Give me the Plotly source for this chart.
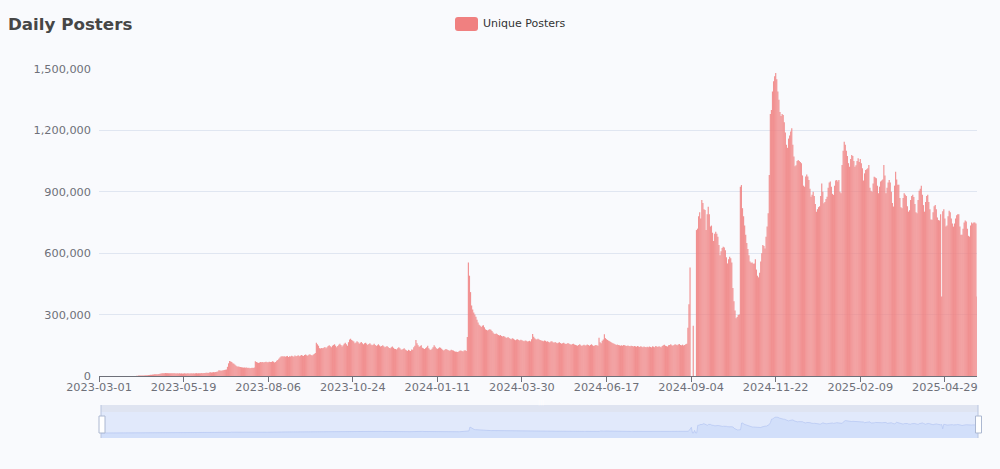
import pandas as pd
import plotly.graph_objects as go

W, H = 1000, 469

# daily unique posters, in thousands, one row of numbers per stretch between x ticks
seg_0 = [0]*35 + [1,1,2,2,2,3,3,3,4,4, 4,5,5,6,6,7,7,8,8,9, 9,10,11,12,13,14,14,15,14,14,
         14,13,14,13,13,14,13,12,13,12,13,12,13,12]
seg_1 = [12,13,12,12,13,12,12,13,12,13, 12,13,14,13,13,14,14,15,14,15, 15,16,16,15,17,18,17,18,19,18,
         20,21,22,28,27,26,27,28,29, 30,32, 45,62,73, 71,68,62,60,55,
         50,47,46,45,44,43,42,41,42,40,41, 39,40,38,39,40,39,41,72,
         68,66,64,66,68,67,69,66,68,70,67]
seg_2 = [67,70,69,68,72,70,66,68,74, 78,84,90,95,
         96,95,97,94,96,98,93,97,95,99,96,94,100,97,98,101,96,99,103,100,98,102,105,101,99,104,106,102,100,104,108,
         112,162, 155,148,136,134,137,135,
         138,142,136,140,146,150,145,141,148,152,155,148,140,146,153,158,152,144,150,157,162,155,148,165,178,182,176]
seg_3 = [172,168,160,164,170,165,158,162,166,160, 155,160,163,157,152,156,160,154,150,153,
         157,152,147,150,155,149,144,146,150,145, 140,143,147,142,137,135,140,144,138,133,
         132,130,136,141,135,130,128,132,136,130, 126,122,128,125,122,130,128,140,148,
         176,160,150,142,146,150,138,135,132,136, 140,148,135,130,127,133,140,150,143,135]
seg_4 = [132,136,140,138,133,128,125,128,132,130, 127,123,125,128,126,124,121,119,118,117,
         120,123,125,122,120,124,126,122,190,
         555,490,410,345,325,310,300,290,275,262, 250,245,240,245,248,238,228,225,222,226,
         228,226,220,212,206,205,208,204,200,198, 200,196,193,195,192,188,186,190,186,182,
         180,184,182,178,175,178,180,176,174,177]
seg_5 = [175,172,170,174,172,168,170,172,169,180, 205,192,185,180,178,182,178,176,174,172,
         170,174,172,168,170,166,164,168,170,165, 163,166,162,160,163,165,161,158,160,163,
         159,156,158,161,157,155,153,156,158,154, 152,150,148,152,155,150,147,150,153,149,
         150,154,151,148,152,155,150,147,149,152, 150,148,187,165,160,172,178,204,185]
seg_6 = [180,176,172,170,166,163,160,158,155,152, 154,152,150,148,150,148,152,150,148,147,
         149,146,145,148,146,144,147,145,143,146, 144,142,145,143,141,144,142,140,143,141,
         144,142,140,145,143,141,146,144,142,145, 143,140,146,150,153,148,146,144,150,152,
         155,150,148,152,155,153,150,154,156,152, 150,153,149,152,155,158,236,350,530]
seg_7 = [0,0,245,0,0, 713,720,780,800,770,860,845,815,811,713,790,827,790,730,735,700,660,695,705,695,680,640,
         590,610,625,632,628,615,580,550,570,583,575,555,430,365,320,282,288,298,300,925,933,820,780,735,690,650,
         620,590,560,553,555,548,550,570,520,490,482,505,560,600,640,635,623,680,730,795,982,1280,1300,1390,1440,1465]
seg_8 = [1480,1450,1390,1350,1290,1270,1280,1275,1240,1190,1130,1115,1160,1175,1195,1210,1130,1072,1025,1030,
         1050,1055,1050,1045,1040,980,930,925,975,985,975,958,915,876,885,900,880,840,803,815,825,830,880,941,900,
         844,850,865,876,920,945,950,925,890,885,930,955,958,950,958,900,893,1031,1100,1145,1130,1100,1075,1040,
         1023,1060,1080,1075,1050,1023,1030,1050,1064,1045]
seg_9 = [1060,1040,1015,955,990,1007,1010,1015,1031,920,905,900,940,974,970,966,930,893,925,950,955,960,1031,980,
         893,920,945,958,945,900,845,828,930,998,960,934,935,870,825,820,870,893,885,880,830,803,810,860,880,885,
         875,840,800,795,860,905,915,929,885,835,803,850,880,885,850,815,765,763,800,830,836,815,775,762,760,790,
         388,805,815]
seg_10 = [770,730,735,780,808,800,770,745,730,745,770,785,790,790,730,690,690,720,750,760,755,720,685,681,735,750,
          745,750,750,745,388]

thousands = seg_0 + seg_1 + seg_2 + seg_3 + seg_4 + seg_5 + seg_6 + seg_7 + seg_8 + seg_9 + seg_10
unique_posters = [v * 1000 for v in thousands]
dates = [d.strftime('%Y-%m-%d') for d in pd.date_range('2023-03-01', periods=len(unique_posters))]

x_ticks = ['2023-03-01', '2023-05-19', '2023-08-06', '2023-10-24', '2024-01-11', '2024-03-30',
           '2024-06-17', '2024-09-04', '2024-11-22', '2025-02-09', '2025-04-29']
y_ticks = [0, 300000, 600000, 900000, 1200000, 1500000]

BG = '#f9fafd'
TICK = '#6e7079'


def px(x):
    return x / W


def py(y):
    return 1 - y / H


def box(x0, y0, x1, y1, fill, line=None):
    return dict(type='rect', xref='paper', yref='paper', x0=px(x0), x1=px(x1), y0=py(y0), y1=py(y1),
                fillcolor=fill, line=dict(color=line or fill, width=1 if line else 0), layer='below' if not line else 'above')


fig = go.Figure()
# a hair over one category wide, the overlaps give the faint stripes
fig.add_trace(go.Bar(x=dates, y=unique_posters, name='Unique Posters', width=1.08,
                     marker=dict(color='rgba(240,128,128,0.86)', line_width=0)))
# dataZoom style overview under the chart
fig.add_trace(go.Scatter(x=dates, y=unique_posters, xaxis='x2', yaxis='y2', mode='lines',
                         line=dict(color='#b4c6f2', width=0.7), fill='tozeroy', fillcolor='#d2dffa'))

shapes = [
    box(101, 405, 978, 438, '#e1e9fb'),
    box(101, 405, 978, 412, '#dfe4f1'),
    box(101, 433, 978, 438, '#d2dffa'),
    # the slider handles
    dict(type='line', xref='paper', yref='paper', x0=px(101), x1=px(101), y0=py(405), y1=py(438),
         line=dict(color='#b8c4de', width=1)),
    dict(type='line', xref='paper', yref='paper', x0=px(978), x1=px(978), y0=py(405), y1=py(438),
         line=dict(color='#b8c4de', width=1)),
    box(99, 416, 105, 433, '#ffffff', '#acb8d1'),
    box(975.5, 416, 981.5, 433, '#ffffff', '#acb8d1'),
    # legend swatch
    dict(type='path', xref='paper', yref='paper', fillcolor='#f08080', line_width=0,
         path='M %f,%f L %f,%f Q %f,%f %f,%f L %f,%f Q %f,%f %f,%f L %f,%f Q %f,%f %f,%f L %f,%f Q %f,%f %f,%f Z' % (
             px(458), py(17), px(475), py(17), px(478), py(17), px(478), py(20),
             px(478), py(28), px(478), py(31), px(475), py(31),
             px(458), py(31), px(455), py(31), px(455), py(28),
             px(455), py(20), px(455), py(17), px(458), py(17))),
]

annotations = [
    dict(text='<b>Daily Posters</b>', x=px(8), y=py(24), xref='paper', yref='paper', xanchor='left', yanchor='middle',
         showarrow=False, font=dict(size=16.7, color='#464646'), xshift=-2),
    dict(text='Unique Posters', x=px(483), y=py(23), xref='paper', yref='paper', xanchor='left', yanchor='middle',
         showarrow=False, font=dict(size=11, color='#333333'), xshift=-2),
    dict(text='|||', x=px(540.5), y=py(408), xref='paper', yref='paper', showarrow=False,
         font=dict(size=6, color='#ffffff')),
]

fig.update_layout(
    width=W, height=H,
    margin=dict(l=0, r=0, t=0, b=0, autoexpand=False),
    paper_bgcolor=BG, plot_bgcolor=BG,
    font=dict(family='DejaVu Sans', size=11.3, color=TICK),
    showlegend=False,
    bargap=0.001,
    shapes=shapes,
    annotations=annotations,
    xaxis=dict(type='category', domain=[px(99), px(977)], range=[0, len(dates) - 1], automargin=False,
               tickmode='array', tickvals=x_ticks, ticktext=x_ticks,
               ticks='outside', ticklen=5, tickcolor=TICK, showgrid=False, ticklabelstandoff=-5,
               showline=True, linecolor=TICK, linewidth=1, zeroline=False),
    yaxis=dict(domain=[py(376), py(69)], range=[0, 1500000], tickmode='array', tickvals=y_ticks, automargin=False,
               tickformat=',d', gridcolor='#e0e6f1', gridwidth=1, zeroline=False, ticklabelstandoff=7),
    xaxis2=dict(type='category', domain=[px(101), px(978)], range=[0, len(dates) - 1], anchor='y2',
                visible=False),
    yaxis2=dict(domain=[py(438), py(405)], range=[-462500, 2590000], anchor='x2', visible=False),
)

fig.write_html('out.html', config={'displayModeBar': False},
               post_script="document.body.style.margin='0';")
